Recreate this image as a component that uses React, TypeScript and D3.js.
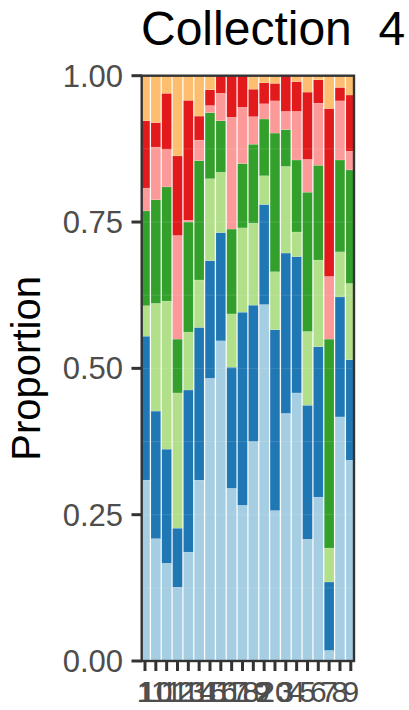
import React from "react";
import * as d3 from "d3";

const samples = ["1","10","11","12","13","14","15","16","17","18","19","2","20","3","4","5","6","7","8","9"];
const groupKeys = ["g1","g2","g3","g4","g5","g6","g7"];
const groupColors = ["#A6CEE3","#1F78B4","#B2DF8A","#33A02C","#FB9A99","#E31A1C","#FDBF6F"];

const g1 = [0.309,0.209,0.167,0.126,0.186,0.309,0.483,0.547,0.295,0.266,0.375,0.609,0.257,0.423,0.458,0.208,0.280,0.018,0.417,0.343];
const g2 = [0.246,0.218,0.195,0.101,0.277,0.261,0.201,0.185,0.207,0.330,0.233,0.171,0.309,0.274,0.233,0.229,0.257,0.117,0.205,0.172];
const g3 = [0.052,0.184,0.253,0.231,0.099,0.081,0.140,0.103,0.091,0.144,0.140,0.049,0.099,0.148,0.042,0.126,0.148,0.058,0.077,0.130];
const g4 = [0.162,0.177,0.195,0.092,0.188,0.204,0.113,0.088,0.145,0.110,0.135,0.097,0.237,0.063,0.123,0.238,0.162,0.357,0.157,0.194];
const g5 = [0.039,0.090,0.064,0.177,0.003,0.035,0.012,0.047,0.191,0.096,0.047,0.026,0.055,0.031,0.083,0.056,0.106,0.107,0.101,0.032];
const g6 = [0.115,0.042,0.096,0.136,0.205,0.041,0.027,0.030,0.071,0.054,0.047,0.036,0.030,0.061,0.051,0.115,0.040,0.287,0.023,0.096];
const g7 = [0.077,0.080,0.030,0.137,0.042,0.069,0.024,0,0,0,0.023,0.012,0.013,0,0.010,0.028,0.007,0.056,0.020,0.033];

const yTicks = [0, 0.25, 0.5, 0.75, 1];
const yTickLabels = ["0.00","0.25","0.50","0.75","1.00"];
const title = "Collection  4";
const yTitle = "Proportion";

export default function App() {
  const W = 409, H = 710;
  const panel = { left: 141.7, right: 354, top: 75.7, bottom: 661 };
  const seriesVals = [g1, g2, g3, g4, g5, g6, g7];
  const rows = samples.map((s, i) => {
    const r: any = { sample: s };
    groupKeys.forEach((k, j) => (r[k] = seriesVals[j][i]));
    return r;
  });
  const stack = d3.stack().keys(groupKeys).offset(d3.stackOffsetExpand);
  const layers = stack(rows);

  const x = d3.scalePoint<string>().domain(samples).range([145, 350.8]);
  const step = x.step();
  const bw = step * 0.9;
  const y = d3.scaleLinear().domain([0, 1]).range([panel.bottom, panel.top]);
  const font = "'Liberation Sans', Arial, Helvetica, sans-serif";
  const gridVals = d3.range(0, 1.0001, 0.125);

  return (
    <svg width={W} height={H} style={{ position: "absolute", left: 0, top: 0, background: "#fff" }} fontFamily={font}>
      <defs>
        <clipPath id="pclip">
          <rect x={panel.left} y={panel.top} width={panel.right - panel.left} height={panel.bottom - panel.top} />
        </clipPath>
      </defs>
      <rect x={0} y={0} width={W} height={H} fill="#fff" />
      <g clipPath="url(#pclip)">
        {layers.map((layer, li) => (
          <g key={li} fill={groupColors[li]}>
            {layer.map((d: any, i: number) => (
              <rect
                key={i}
                x={(x(d.data.sample) as number) - bw / 2}
                y={y(d[1])}
                width={bw}
                height={Math.max(0, y(d[0]) - y(d[1]))}
                stroke="#ffffff"
                strokeOpacity={0.35}
                strokeWidth={0.4}
              />
            ))}
          </g>
        ))}
        {gridVals.map((v, i) => (
          <line key={i} x1={panel.left} x2={panel.right} y1={y(v)} y2={y(v)} stroke="#ffffff" strokeOpacity={0.12} strokeWidth={1} />
        ))}
      </g>
      <rect x={panel.left} y={panel.top} width={panel.right - panel.left} height={panel.bottom - panel.top}
        fill="none" stroke="#333333" strokeWidth={2.4} />
      {yTicks.map((t, i) => (
        <g key={i}>
          <line x1={131.5} x2={panel.left} y1={y(t)} y2={y(t)} stroke="#333333" strokeWidth={3} />
          <text x={123} y={y(t)} dy="0.35em" textAnchor="end" fontSize={31} fill="#4D4D4D">{yTickLabels[i]}</text>
        </g>
      ))}
      {samples.map((s, i) => (
        <g key={i}>
          <line x1={x(s)} x2={x(s)} y1={panel.bottom} y2={671} stroke="#333333" strokeWidth={3} />
          <text x={x(s)} y={702} textAnchor="middle" fontSize={30} fill="#4D4D4D">{s}</text>
        </g>
      ))}
      <text x={141} y={45} fontSize={48} fill="#000" style={{ whiteSpace: "pre" }} xmlSpace="preserve">{title}</text>
      <text transform={`translate(40,${(panel.top + panel.bottom) / 2}) rotate(-90)`} textAnchor="middle" fontSize={40} fill="#000">{yTitle}</text>
    </svg>
  );
}
